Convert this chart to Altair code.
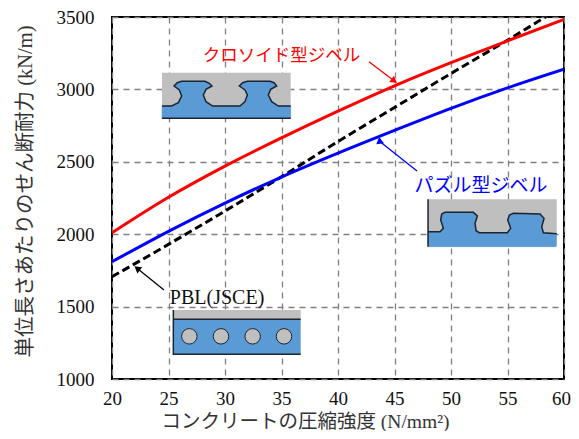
import altair as alt
import pandas as pd

FONT = "Liberation Serif, Noto Sans CJK JP"
XD = [20, 60]
YD = [1000, 3500]

strength = [20, 25, 30, 35, 40, 45, 50, 55, 60]
clothoid = [2010, 2255, 2470, 2665, 2850, 3025, 3185, 3335, 3484]
puzzle = [1810, 2020, 2215, 2395, 2560, 2717, 2869, 3010, 3139]
pbl = [1706, 1930, 2160, 2397, 2640, 2875, 3110, 3340, 3580]

# cross-section sketches, in sketch units placed into data space
SX, SY = 0.0295, 2.302
clothoid_anchor = (23.363, 3203)
clothoid_grey = ((36, 38), (422, 175))
clothoid_edge = [(36,138),(65,138),(85,128),(95,108),(88,90),(72,78),(82,68),(95,64),(165,64),(178,70),(186,78),
                 (168,88),(160,105),(168,125),(188,138),(270,138),(285,125),(292,105),(285,90),(268,78),(278,68),
                 (292,64),(360,64),(372,68),(380,78),(362,88),(355,105),(365,125),(385,138),(422,138)]
clothoid_close = [(422,175),(36,175),(36,138)]
puzzle_anchor = (47.26, 2305.2)
puzzle_grey = ((24, 28), (410, 170))
puzzle_edge = [(24,125),(60,125),(70,115),(62,90),(65,72),(75,67),(160,67),(172,78),(165,100),(168,122),(178,128),
               (262,128),(272,115),(263,90),(268,75),(280,70),(360,72),(372,85),(365,110),(370,128),(410,131)]
puzzle_close = [(408,170),(24,170),(24,125)]
pbl_anchor = (20.708, 1821.8)
pbl_grey = ((160, 150), (542, 178))
pbl_blue = ((160, 178), (542, 283))
pbl_holes = [208, 303, 398, 492]
pbl_hole_y = 229

GREY = "#bfbfbf"
BLUE = "#5b9bd5"
DARK = "#1c2430"


def place(anchor, pts):
    return pd.DataFrame({
        "x": [anchor[0] + p[0] * SX for p in pts],
        "y": [anchor[1] - p[1] * SY for p in pts],
        "o": list(range(len(pts))),
    })


def X(axis=None, field="x"):
    return alt.X(f"{field}:Q", scale=alt.Scale(domain=XD, nice=False, zero=False), axis=axis)


def Y(axis=None, field="y"):
    return alt.Y(f"{field}:Q", scale=alt.Scale(domain=YD, nice=False, zero=False), axis=axis)


def rect(anchor, box, color):
    (a, b), (c, d) = box
    df = pd.DataFrame({"x": [anchor[0] + a * SX], "x2": [anchor[0] + c * SX],
                       "y": [anchor[1] - b * SY], "y2": [anchor[1] - d * SY]})
    return alt.Chart(df).mark_rect(color=color).encode(X(), Y(), x2="x2:Q", y2="y2:Q")


def poly(anchor, pts, fill):
    return alt.Chart(place(anchor, pts)).mark_line(fill=fill, stroke=fill, strokeWidth=0.5).encode(X(), Y(), order="o:Q")


def path(anchor, pts, color=DARK, width=1.5):
    return alt.Chart(place(anchor, pts)).mark_line(color=color, strokeWidth=width).encode(X(), Y(), order="o:Q")


axis_x = alt.Axis(values=strength, grid=True, gridColor="#808080", gridDash=[6, 5], gridWidth=1.3,
                  ticks=False, domain=False, labelFont=FONT, labelFontSize=19, labelColor="#111", labelPadding=10,
                  labelAngle=0, format="d", title="コンクリートの圧縮強度 (N/mm²)", titleFont=FONT, titleFontSize=19.5,
                  labelOffset=alt.condition("datum.value == 60", alt.value(-3), alt.value(0)),
                  titleFontWeight="normal", titleColor="#333", titleX=193, titleY=52, titleAnchor="middle",
                  titleBaseline="bottom", labelFlush=False, labelOverlap=False)
axis_y = alt.Axis(values=[1000, 1500, 2000, 2500, 3000, 3500], grid=True, gridColor="#808080", gridDash=[6, 5], gridWidth=1.3,
                  ticks=False, domain=False, labelFont=FONT, labelFontSize=19, labelColor="#111", labelPadding=18,
                  format="d", title="単位長さあたりのせん断耐力 (kN/m)", titleFont=FONT, titleFontSize=20.5, titleFontWeight="normal",
                  titleColor="#333", titleX=-87, titleY=174, titleAnchor="middle", titleBaseline="middle", titleAngle=270,
                  labelOverlap=False)

df = pd.DataFrame({"x": strength, "clothoid": clothoid, "puzzle": puzzle, "pbl": pbl})
base = alt.Chart(df).mark_point(opacity=0).encode(X(axis=axis_x), Y(axis=axis_y, field="pbl"))


def curve(field, color, dash=None):
    kw = {"strokeDash": dash} if dash else {}
    return alt.Chart(df).mark_line(color=color, strokeWidth=3, clip=True, interpolate="monotone", **kw).encode(X(), Y(field=field))


def arrow(x0, y0, x1, y1, angle, color):
    line = alt.Chart(pd.DataFrame({"x": [x0], "y": [y0], "x2": [x1], "y2": [y1]})).mark_rule(
        color=color, strokeWidth=1.3).encode(X(), Y(), x2="x2:Q", y2="y2:Q")
    head = alt.Chart(pd.DataFrame({"x": [x1], "y": [y1]})).mark_point(
        shape="triangle", filled=True, color=color, size=60, angle=angle, opacity=1).encode(X(), Y())
    return line + head


def label(x, y, text, color, size=17):
    return alt.Chart(pd.DataFrame({"x": [x], "y": [y], "t": [text]})).mark_text(
        font=FONT, fontSize=size, color=color, align="center", baseline="middle").encode(X(), Y(), text="t:N")


holes = pd.DataFrame({"x": [pbl_anchor[0] + h * SX for h in pbl_holes],
                      "y": [pbl_anchor[1] - pbl_hole_y * SY] * len(pbl_holes)})

chart = alt.layer(
    base,
    rect(clothoid_anchor, clothoid_grey, GREY),
    poly(clothoid_anchor, clothoid_edge + clothoid_close, BLUE),
    path(clothoid_anchor, clothoid_edge),
    path(clothoid_anchor, [(36, 175), (422, 175)]),
    rect(puzzle_anchor, puzzle_grey, GREY),
    poly(puzzle_anchor, puzzle_edge + puzzle_close, BLUE),
    path(puzzle_anchor, puzzle_edge),
    path(puzzle_anchor, [(24, 28), (24, 170)]),
    rect(pbl_anchor, pbl_grey, GREY),
    rect(pbl_anchor, pbl_blue, BLUE),
    path(pbl_anchor, [(160, 150), (160, 283), (542, 283)]),
    path(pbl_anchor, [(160, 178), (542, 178)]),
    alt.Chart(holes).mark_point(shape="circle", filled=True, fill=GREY, stroke=DARK, strokeWidth=1, size=240, opacity=1).encode(X(), Y()),
    curve("pbl", "#000000", [8, 4]),
    curve("clothoid", "#ff0000"),
    curve("puzzle", "#0000ff"),
    arrow(42.74, 3191, 44.9, 3063, 127, "#ff0000"),
    arrow(46.99, 2436, 43.7, 2640, 231, "#0000ff"),
    arrow(24.6, 1615, 22.3, 1760, 308, "#000000"),
    label(35.0, 3230, "クロソイド型ジベル", "#ff0000", 17.5),
    label(52.66, 2333, "パズル型ジベル", "#0000ff", 19),
    label(29.3, 1560, "PBL(JSCE)", "#111111", 20),
).resolve_axis(x="independent", y="independent").properties(
    width=452, height=362, background="white",
    padding={"left": 104, "top": 9, "right": 7, "bottom": 52},
    autosize=alt.AutoSizeParams(type="none"),
).configure_view(stroke="#000000", strokeWidth=2, fill="white")

chart.save("out.html", embed_options={"renderer": "svg", "actions": False})
